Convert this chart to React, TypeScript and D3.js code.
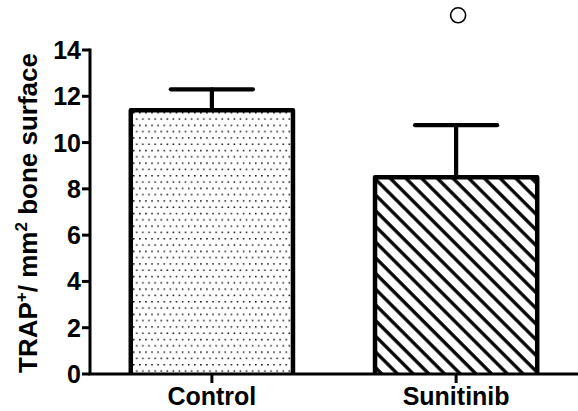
import React from "react";
import * as d3 from "d3";

const categories = ["Control", "Sunitinib"];
const means = [11.4, 8.5];
const errUpper = [12.3, 10.75];
const outliers = [{ cat: "Sunitinib", value: 15.5 }];
const yTicks = [0, 2, 4, 6, 8, 10, 12, 14];

const W = 578;
const H = 411;

export default function App() {
  const x = d3
    .scaleBand<string>()
    .domain(categories)
    .range([90, 578])
    .paddingInner(0.336)
    .paddingOuter(0.167);
  const y = d3.scaleLinear().domain([0, 14]).range([374, 50]);
  const bw = x.bandwidth();
  const font = "'Liberation Sans', Arial, sans-serif";
  const fills = ["url(#dots)", "url(#hatch)"];

  return (
    <svg
      width={W}
      height={H}
      style={{ position: "absolute", left: 0, top: 0, background: "#fff" }}
    >
      <defs>
        <pattern id="dots" patternUnits="userSpaceOnUse" width={6.1} height={12.6} x={133} y={112}>
          <rect width={6.1} height={12.6} fill="#fff" />
          <rect x={0} y={0} width={1.5} height={1.5} fill="#111" />
          <rect x={3.05} y={6.3} width={1.5} height={1.5} fill="#111" />
        </pattern>
        <pattern
          id="hatch"
          patternUnits="userSpaceOnUse"
          width={11.1}
          height={11.1}
          patternTransform="rotate(45)"
        >
          <rect width={11.1} height={11.1} fill="#fff" />
          <line x1={0} y1={5.5} x2={11.1} y2={5.5} stroke="#000" strokeWidth={3.3} />
        </pattern>
      </defs>

      {/* bars */}
      {categories.map((c, i) => {
        const x0 = x(c)!;
        const yt = y(means[i]);
        return (
          <path
            key={c}
            d={`M${x0},${y(0)} L${x0},${yt} L${x0 + bw},${yt} L${x0 + bw},${y(0)}`}
            fill={fills[i]}
            stroke="#000"
            strokeWidth={4.5}
            strokeLinejoin="round"
          />
        );
      })}

      {/* error bars */}
      {categories.map((c, i) => {
        const cx = x(c)! + bw / 2;
        return (
          <g key={c} stroke="#000" strokeWidth={4.2} strokeLinecap="round">
            <line x1={cx} x2={cx} y1={y(means[i]) - 2} y2={y(errUpper[i])} />
            <line x1={cx - bw / 4 - 0.5} x2={cx + bw / 4 + 0.5} y1={y(errUpper[i])} y2={y(errUpper[i])} />
          </g>
        );
      })}

      {/* outliers */}
      {outliers.map((o, i) => (
        <circle
          key={i}
          cx={x(o.cat)! + bw / 2 + 2}
          cy={y(o.value)}
          r={7.5}
          fill="#fff"
          stroke="#000"
          strokeWidth={1.6}
        />
      ))}

      {/* y axis */}
      <line x1={90} x2={90} y1={y(14) - 1.5} y2={y(0)} stroke="#000" strokeWidth={3} />
      {yTicks.map((t) => (
        <g key={t}>
          <line x1={82} x2={90} y1={y(t)} y2={y(t)} stroke="#000" strokeWidth={3} />
          <text
            x={81}
            y={y(t)}
            dy="0.36em"
            textAnchor="end"
            fontFamily={font}
            fontWeight="bold"
            fontSize={25}
          >
            {t}
          </text>
        </g>
      ))}

      {/* x axis */}
      <line x1={88.5} x2={578} y1={y(0)} y2={y(0)} stroke="#000" strokeWidth={3} />
      {categories.map((c) => {
        const cx = x(c)! + bw / 2;
        return (
          <g key={c}>
            <line x1={cx} x2={cx} y1={y(0)} y2={y(0) + 9} stroke="#000" strokeWidth={3} />
            <text
              x={cx}
              y={405}
              textAnchor="middle"
              fontFamily={font}
              fontWeight="bold"
              fontSize={25}
            >
              {c}
            </text>
          </g>
        );
      })}

      {/* y axis title */}
      <text
        transform={`translate(37,${213}) rotate(-90)`}
        textAnchor="middle"
        fontFamily={font}
        fontWeight="bold"
        fontSize={26}
      >
        TRAP
        <tspan fontSize={17} dy={-10}>+</tspan>
        <tspan dy={10}>/ mm</tspan>
        <tspan fontSize={17} dy={-10}>2</tspan>
        <tspan dy={10}> bone surface</tspan>
      </text>
    </svg>
  );
}
